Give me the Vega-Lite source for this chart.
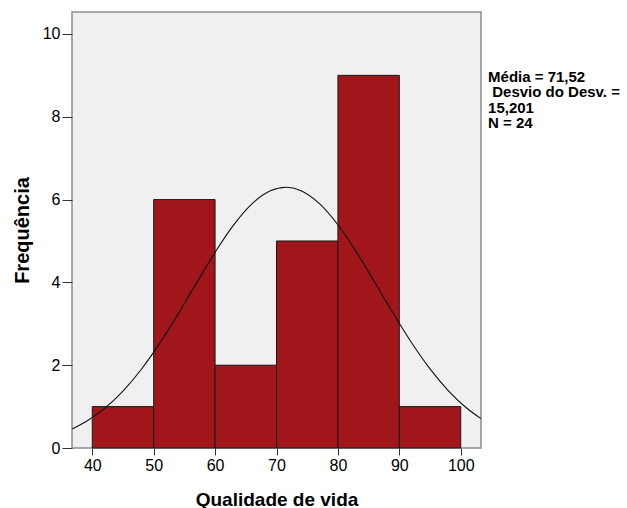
{
  "$schema": "https://vega.github.io/schema/vega-lite/v6.json",
  "autosize": {"type": "none"},
  "width": 409,
  "height": 436,
  "padding": {"left": 72, "top": 12, "right": 146, "bottom": 60},
  "background": "white",
  "config": {
    "font": "Liberation Sans",
    "view": {"fill": "#f0f0f0", "stroke": "#8c8c8c", "strokeWidth": 1.5},
    "axis": {"grid": false, "domain": false, "tickColor": "#333333", "labelColor": "black", "titleColor": "black", "labelFont": "Liberation Sans", "titleFont": "Liberation Sans", "labelFontSize": 16, "titleFontSize": 20, "titleFontWeight": "bold", "labelFontWeight": "normal"}
  },
  "datasets": {
    "bins": [
      {"bin_start": 40, "bin_end": 50, "count": 1},
      {"bin_start": 50, "bin_end": 60, "count": 6},
      {"bin_start": 60, "bin_end": 70, "count": 2},
      {"bin_start": 70, "bin_end": 80, "count": 5},
      {"bin_start": 80, "bin_end": 90, "count": 9},
      {"bin_start": 90, "bin_end": 100, "count": 1}
    ],
    "curve": [
      {"x": 36.74, "y": 0.4597},
      {"x": 39, "y": 0.6389},
      {"x": 42, "y": 0.9557},
      {"x": 45, "y": 1.3751},
      {"x": 48, "y": 1.9026},
      {"x": 51, "y": 2.5325},
      {"x": 54, "y": 3.2419},
      {"x": 57, "y": 3.9912},
      {"x": 60, "y": 4.7267},
      {"x": 63, "y": 5.3831},
      {"x": 66, "y": 5.8968},
      {"x": 69, "y": 6.2127},
      {"x": 71.52, "y": 6.2987},
      {"x": 74, "y": 6.2154},
      {"x": 77, "y": 5.9025},
      {"x": 80, "y": 5.3911},
      {"x": 83, "y": 4.7361},
      {"x": 86, "y": 4.0013},
      {"x": 89, "y": 3.2518},
      {"x": 92, "y": 2.5415},
      {"x": 95, "y": 1.9106},
      {"x": 98, "y": 1.3814},
      {"x": 101, "y": 0.9606},
      {"x": 103.3, "y": 0.7105}
    ],
    "stats": [
      {"label": ["Média = 71,52", "\u200b\u00a0Desvio do Desv. =", "15,201", "N = 24"]}
    ]
  },
  "layer": [
    {
      "data": {"name": "bins"},
      "mark": {"type": "rect", "fill": "#a0161b", "stroke": "#1a1a1a", "strokeWidth": 1},
      "encoding": {
        "x": {"field": "bin_start", "type": "quantitative", "scale": {"domain": [36.7, 103.3], "nice": false, "zero": false},
              "axis": {"values": [40, 50, 60, 70, 80, 90, 100], "tickSize": 7, "labelPadding": 2, "title": "Qualidade de vida", "titleFontSize": 19, "titlePadding": 17}},
        "x2": {"field": "bin_end"},
        "y": {"field": "count", "type": "quantitative", "scale": {"domain": [0, 10.53], "nice": false},
              "axis": {"values": [0, 2, 4, 6, 8, 10], "tickSize": 10, "labelPadding": 2, "title": "Frequência", "titlePadding": 10}},
        "y2": {"datum": 0}
      }
    },
    {
      "data": {"name": "curve"},
      "mark": {"type": "line", "color": "#111111", "strokeWidth": 1.1, "interpolate": "monotone", "clip": true},
      "encoding": {
        "x": {"field": "x", "type": "quantitative"},
        "y": {"field": "y", "type": "quantitative"}
      }
    },
    {
      "data": {"name": "stats"},
      "mark": {"type": "text", "align": "left", "baseline": "top", "font": "Liberation Sans", "fontSize": 15, "fontWeight": "bold", "lineHeight": 15.3, "color": "black"},
      "encoding": {
        "x": {"datum": 104.45, "type": "quantitative"},
        "y": {"datum": 9.13, "type": "quantitative"},
        "text": {"field": "label"}
      }
    }
  ]
}
